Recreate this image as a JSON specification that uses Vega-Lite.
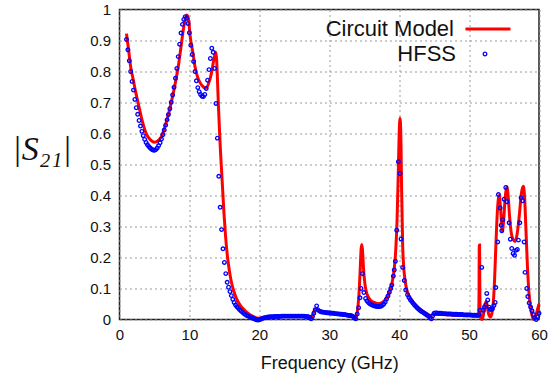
{
  "$schema": "https://vega.github.io/schema/vega-lite/v6.json",
  "width": 419.5,
  "height": 310,
  "autosize": {"type": "none"},
  "padding": {"left": 119.5, "top": 9.5, "right": 11, "bottom": 58.5},
  "background": "white",
  "config": {"view": {"stroke": "#222", "strokeWidth": 1.5}, "font": "Liberation Sans"},
  "datasets": {
    "model": [
      {"f":1.0,"v":0.922},{"f":1.3,"v":0.87},{"f":1.6,"v":0.815},{"f":2.0,"v":0.77},{"f":2.3,"v":0.735},{"f":2.65,"v":0.70},{"f":3.0,"v":0.665},{"f":3.3,"v":0.637},{"f":3.65,"v":0.61},{"f":4.0,"v":0.592},{"f":4.5,"v":0.578},{"f":5.0,"v":0.572},{"f":5.5,"v":0.577},{"f":6.0,"v":0.59},{"f":6.5,"v":0.622},{"f":7.0,"v":0.662},{"f":7.5,"v":0.71},{"f":8.0,"v":0.765},{"f":8.4,"v":0.815},{"f":8.8,"v":0.88},{"f":9.2,"v":0.945},{"f":9.6,"v":0.982},{"f":9.85,"v":0.972},{"f":10.1,"v":0.915},{"f":10.5,"v":0.86},{"f":10.8,"v":0.815},{"f":11.2,"v":0.78},{"f":11.5,"v":0.765},{"f":12.0,"v":0.75},{"f":12.35,"v":0.746},{"f":12.8,"v":0.765},{"f":13.2,"v":0.8},{"f":13.5,"v":0.84},{"f":13.76,"v":0.863},{"f":13.9,"v":0.835},{"f":14.0,"v":0.78},{"f":14.15,"v":0.69},{"f":14.3,"v":0.61},{"f":14.45,"v":0.54},{"f":14.6,"v":0.48},{"f":14.75,"v":0.42},{"f":14.95,"v":0.34},{"f":15.15,"v":0.275},{"f":15.35,"v":0.222},{"f":15.6,"v":0.175},{"f":15.8,"v":0.145},{"f":16.05,"v":0.116},{"f":16.4,"v":0.088},{"f":16.8,"v":0.064},{"f":17.3,"v":0.045},{"f":17.9,"v":0.03},{"f":18.5,"v":0.018},{"f":19.0,"v":0.011},{"f":19.5,"v":0.006},{"f":20.0,"v":0.004},{"f":21.0,"v":0.006},{"f":22.0,"v":0.009},{"f":23.0,"v":0.011},{"f":24.0,"v":0.012},{"f":25.0,"v":0.012},{"f":26.0,"v":0.012},{"f":27.0,"v":0.01},{"f":27.3,"v":0.005},{"f":27.5,"v":0.003},{"f":27.65,"v":0.012},{"f":27.8,"v":0.026},{"f":28.0,"v":0.033},{"f":28.2,"v":0.032},{"f":28.5,"v":0.028},{"f":29.0,"v":0.025},{"f":30.0,"v":0.022},{"f":31.0,"v":0.019},{"f":32.0,"v":0.016},{"f":33.0,"v":0.012},{"f":33.4,"v":0.008},{"f":33.7,"v":0.003},{"f":33.9,"v":0.012},{"f":34.1,"v":0.04},{"f":34.3,"v":0.1},{"f":34.45,"v":0.175},{"f":34.55,"v":0.225},{"f":34.65,"v":0.242},{"f":34.75,"v":0.225},{"f":34.9,"v":0.165},{"f":35.1,"v":0.115},{"f":35.3,"v":0.09},{"f":35.6,"v":0.072},{"f":35.9,"v":0.062},{"f":36.4,"v":0.055},{"f":37.0,"v":0.051},{"f":37.5,"v":0.054},{"f":38.0,"v":0.063},{"f":38.4,"v":0.077},{"f":38.7,"v":0.095},{"f":39.0,"v":0.12},{"f":39.3,"v":0.165},{"f":39.5,"v":0.22},{"f":39.7,"v":0.32},{"f":39.85,"v":0.45},{"f":40.0,"v":0.6},{"f":40.13,"v":0.649},{"f":40.25,"v":0.58},{"f":40.35,"v":0.42},{"f":40.5,"v":0.24},{"f":40.65,"v":0.17},{"f":40.85,"v":0.125},{"f":41.1,"v":0.095},{"f":41.5,"v":0.073},{"f":42.0,"v":0.056},{"f":42.5,"v":0.043},{"f":43.0,"v":0.033},{"f":43.5,"v":0.025},{"f":44.0,"v":0.018},{"f":44.5,"v":0.013},{"f":45.0,"v":0.016},{"f":46.0,"v":0.016},{"f":47.0,"v":0.015},{"f":48.0,"v":0.014},{"f":49.0,"v":0.013},{"f":50.0,"v":0.012},{"f":51.0,"v":0.011},{"f":51.35,"v":0.01},{"f":51.42,"v":0.08},{"f":51.46,"v":0.24},{"f":51.5,"v":0.24},{"f":51.54,"v":0.08},{"f":51.65,"v":0.005},{"f":51.85,"v":0.0},{"f":52.05,"v":0.015},{"f":52.25,"v":0.045},{"f":52.45,"v":0.058},{"f":52.65,"v":0.035},{"f":52.85,"v":0.013},{"f":53.05,"v":0.008},{"f":53.25,"v":0.018},{"f":53.45,"v":0.05},{"f":53.65,"v":0.13},{"f":53.85,"v":0.25},{"f":54.05,"v":0.35},{"f":54.3,"v":0.4},{"f":54.5,"v":0.36},{"f":54.75,"v":0.285},{"f":54.95,"v":0.32},{"f":55.15,"v":0.39},{"f":55.4,"v":0.428},{"f":55.6,"v":0.395},{"f":55.8,"v":0.33},{"f":56.0,"v":0.285},{"f":56.3,"v":0.258},{"f":56.6,"v":0.252},{"f":56.9,"v":0.28},{"f":57.2,"v":0.34},{"f":57.5,"v":0.41},{"f":57.77,"v":0.43},{"f":57.95,"v":0.39},{"f":58.15,"v":0.28},{"f":58.35,"v":0.17},{"f":58.55,"v":0.09},{"f":58.75,"v":0.045},{"f":58.95,"v":0.018},{"f":59.2,"v":0.0},{"f":59.45,"v":0.005},{"f":59.7,"v":0.025},{"f":60.0,"v":0.05}
    ],
    "hfss": [
      {"f":1.0,"v":0.903},{"f":1.2,"v":0.87},{"f":1.4,"v":0.835},{"f":1.6,"v":0.8},{"f":1.8,"v":0.768},{"f":2.0,"v":0.74},{"f":2.2,"v":0.71},{"f":2.4,"v":0.683},{"f":2.6,"v":0.662},{"f":2.8,"v":0.642},{"f":3.0,"v":0.624},{"f":3.2,"v":0.607},{"f":3.4,"v":0.593},{"f":3.6,"v":0.581},{"f":3.8,"v":0.571},{"f":4.0,"v":0.564},{"f":4.2,"v":0.558},{"f":4.4,"v":0.553},{"f":4.6,"v":0.549},{"f":4.8,"v":0.547},{"f":5.0,"v":0.546},{"f":5.2,"v":0.548},{"f":5.4,"v":0.553},{"f":5.6,"v":0.561},{"f":5.8,"v":0.57},{"f":6.0,"v":0.582},{"f":6.2,"v":0.596},{"f":6.4,"v":0.611},{"f":6.6,"v":0.627},{"f":6.8,"v":0.644},{"f":7.0,"v":0.661},{"f":7.2,"v":0.68},{"f":7.4,"v":0.701},{"f":7.6,"v":0.724},{"f":7.8,"v":0.749},{"f":8.0,"v":0.778},{"f":8.2,"v":0.81},{"f":8.4,"v":0.848},{"f":8.6,"v":0.888},{"f":8.8,"v":0.924},{"f":9.0,"v":0.952},{"f":9.2,"v":0.968},{"f":9.4,"v":0.977},{"f":9.6,"v":0.972},{"f":9.8,"v":0.955},{"f":10.0,"v":0.925},{"f":10.2,"v":0.885},{"f":10.4,"v":0.855},{"f":10.6,"v":0.832},{"f":10.8,"v":0.8},{"f":11.0,"v":0.77},{"f":11.2,"v":0.748},{"f":11.4,"v":0.735},{"f":11.6,"v":0.726},{"f":11.8,"v":0.72},{"f":12.0,"v":0.719},{"f":12.2,"v":0.726},{"f":12.4,"v":0.745},{"f":12.6,"v":0.772},{"f":12.8,"v":0.806},{"f":13.0,"v":0.842},{"f":13.2,"v":0.875},{"f":13.4,"v":0.862},{"f":13.6,"v":0.81},{"f":13.8,"v":0.697},{"f":14.0,"v":0.585},{"f":14.2,"v":0.462},{"f":14.4,"v":0.362},{"f":14.6,"v":0.29},{"f":14.8,"v":0.228},{"f":15.0,"v":0.184},{"f":15.2,"v":0.148},{"f":15.4,"v":0.12},{"f":15.6,"v":0.104},{"f":15.8,"v":0.09},{"f":16.0,"v":0.077},{"f":16.2,"v":0.065},{"f":16.4,"v":0.055},{"f":16.6,"v":0.047},{"f":16.8,"v":0.041},{"f":17.0,"v":0.036},{"f":17.2,"v":0.031},{"f":17.4,"v":0.027},{"f":17.6,"v":0.023},{"f":17.8,"v":0.019},{"f":18.0,"v":0.016},{"f":18.2,"v":0.013},{"f":18.4,"v":0.011},{"f":18.6,"v":0.009},{"f":18.8,"v":0.007},{"f":19.0,"v":0.005},{"f":19.2,"v":0.003},{"f":19.4,"v":0.001},{"f":19.6,"v":-0.001},{"f":19.8,"v":-0.002},{"f":20.0,"v":-0.001},{"f":20.2,"v":0.001},{"f":20.4,"v":0.003},{"f":20.6,"v":0.005},{"f":20.8,"v":0.006},{"f":21.0,"v":0.007},{"f":21.2,"v":0.008},{"f":21.4,"v":0.008},{"f":21.6,"v":0.009},{"f":21.8,"v":0.009},{"f":22.0,"v":0.009},{"f":22.2,"v":0.01},{"f":22.4,"v":0.01},{"f":22.6,"v":0.01},{"f":22.8,"v":0.01},{"f":23.0,"v":0.01},{"f":23.2,"v":0.011},{"f":23.4,"v":0.011},{"f":23.6,"v":0.011},{"f":23.8,"v":0.011},{"f":24.0,"v":0.011},{"f":24.2,"v":0.011},{"f":24.4,"v":0.011},{"f":24.6,"v":0.011},{"f":24.8,"v":0.011},{"f":25.0,"v":0.011},{"f":25.2,"v":0.011},{"f":25.4,"v":0.011},{"f":25.6,"v":0.011},{"f":25.8,"v":0.011},{"f":26.0,"v":0.011},{"f":26.2,"v":0.011},{"f":26.4,"v":0.011},{"f":26.6,"v":0.01},{"f":26.8,"v":0.01},{"f":27.0,"v":0.009},{"f":27.2,"v":0.007},{"f":27.4,"v":0.002},{"f":27.6,"v":0.01},{"f":27.8,"v":0.02},{"f":28.0,"v":0.032},{"f":28.2,"v":0.044},{"f":28.4,"v":0.031},{"f":28.6,"v":0.027},{"f":28.8,"v":0.025},{"f":29.0,"v":0.024},{"f":29.2,"v":0.023},{"f":29.4,"v":0.023},{"f":29.6,"v":0.022},{"f":29.8,"v":0.022},{"f":30.0,"v":0.021},{"f":30.2,"v":0.021},{"f":30.4,"v":0.02},{"f":30.6,"v":0.02},{"f":30.8,"v":0.019},{"f":31.0,"v":0.019},{"f":31.2,"v":0.018},{"f":31.4,"v":0.018},{"f":31.6,"v":0.017},{"f":31.8,"v":0.017},{"f":32.0,"v":0.016},{"f":32.2,"v":0.016},{"f":32.4,"v":0.015},{"f":32.6,"v":0.014},{"f":32.8,"v":0.013},{"f":33.0,"v":0.013},{"f":33.2,"v":0.012},{"f":33.4,"v":0.01},{"f":33.6,"v":0.005},{"f":33.8,"v":0.002},{"f":34.0,"v":0.018},{"f":34.2,"v":0.038},{"f":34.4,"v":0.07},{"f":34.55,"v":0.1},{"f":34.75,"v":0.148},{"f":34.95,"v":0.087},{"f":35.2,"v":0.068},{"f":35.4,"v":0.06},{"f":35.6,"v":0.055},{"f":35.8,"v":0.051},{"f":36.0,"v":0.048},{"f":36.2,"v":0.046},{"f":36.4,"v":0.044},{"f":36.6,"v":0.043},{"f":36.8,"v":0.042},{"f":37.0,"v":0.042},{"f":37.2,"v":0.042},{"f":37.4,"v":0.043},{"f":37.6,"v":0.046},{"f":37.8,"v":0.05},{"f":38.0,"v":0.056},{"f":38.2,"v":0.066},{"f":38.4,"v":0.076},{"f":38.6,"v":0.088},{"f":38.8,"v":0.1},{"f":38.95,"v":0.111},{"f":39.17,"v":0.14},{"f":39.3,"v":0.16},{"f":39.46,"v":0.188},{"f":39.65,"v":0.288},{"f":39.89,"v":0.509},{"f":40.13,"v":0.471},{"f":40.27,"v":0.26},{"f":40.5,"v":0.168},{"f":40.73,"v":0.126},{"f":40.94,"v":0.095},{"f":41.2,"v":0.08},{"f":41.4,"v":0.071},{"f":41.6,"v":0.064},{"f":41.8,"v":0.058},{"f":42.0,"v":0.052},{"f":42.2,"v":0.047},{"f":42.4,"v":0.042},{"f":42.6,"v":0.037},{"f":42.8,"v":0.033},{"f":43.0,"v":0.029},{"f":43.2,"v":0.026},{"f":43.4,"v":0.023},{"f":43.6,"v":0.02},{"f":43.8,"v":0.017},{"f":44.0,"v":0.014},{"f":44.2,"v":0.011},{"f":44.4,"v":0.006},{"f":44.6,"v":0.002},{"f":44.8,"v":0.012},{"f":45.0,"v":0.02},{"f":45.2,"v":0.021},{"f":45.4,"v":0.021},{"f":45.6,"v":0.02},{"f":45.8,"v":0.02},{"f":46.0,"v":0.02},{"f":46.2,"v":0.019},{"f":46.4,"v":0.019},{"f":46.6,"v":0.019},{"f":46.8,"v":0.018},{"f":47.0,"v":0.018},{"f":47.2,"v":0.018},{"f":47.4,"v":0.018},{"f":47.6,"v":0.017},{"f":47.8,"v":0.017},{"f":48.0,"v":0.017},{"f":48.2,"v":0.017},{"f":48.4,"v":0.016},{"f":48.6,"v":0.016},{"f":48.8,"v":0.016},{"f":49.0,"v":0.016},{"f":49.2,"v":0.015},{"f":49.4,"v":0.015},{"f":49.6,"v":0.015},{"f":49.8,"v":0.015},{"f":50.0,"v":0.015},{"f":50.2,"v":0.015},{"f":50.4,"v":0.014},{"f":50.6,"v":0.014},{"f":50.8,"v":0.014},{"f":51.0,"v":0.014},{"f":51.2,"v":0.014},{"f":51.4,"v":0.015},{"f":51.57,"v":0.03},{"f":51.81,"v":0.168},{"f":52.05,"v":0.03},{"f":52.2,"v":0.04},{"f":52.4,"v":0.048},{"f":52.53,"v":0.084},{"f":52.67,"v":0.063},{"f":52.85,"v":0.04},{"f":53.0,"v":0.033},{"f":53.2,"v":0.032},{"f":53.35,"v":0.035},{"f":53.55,"v":0.045},{"f":53.73,"v":0.055},{"f":53.82,"v":0.103},{"f":54.1,"v":0.25},{"f":54.2,"v":0.403},{"f":54.45,"v":0.36},{"f":54.58,"v":0.304},{"f":54.68,"v":0.286},{"f":54.8,"v":0.322},{"f":55.0,"v":0.388},{"f":55.25,"v":0.426},{"f":55.4,"v":0.38},{"f":55.72,"v":0.312},{"f":55.9,"v":0.259},{"f":56.1,"v":0.229},{"f":56.3,"v":0.213},{"f":56.5,"v":0.207},{"f":56.7,"v":0.223},{"f":56.9,"v":0.226},{"f":57.06,"v":0.256},{"f":57.25,"v":0.312},{"f":57.44,"v":0.393},{"f":57.67,"v":0.383},{"f":57.87,"v":0.25},{"f":58.0,"v":0.152},{"f":58.25,"v":0.1},{"f":58.4,"v":0.074},{"f":58.6,"v":0.053},{"f":58.8,"v":0.04},{"f":59.0,"v":0.028},{"f":59.2,"v":0.016},{"f":59.4,"v":0.006},{"f":59.6,"v":0.0},{"f":59.8,"v":0.008},{"f":60.0,"v":0.02}
    ]
  },
  "encoding": {
    "x": {
      "field": "f", "type": "quantitative",
      "scale": {"domain": [0, 60], "nice": false, "zero": false},
      "axis": {
        "title": "Frequency (GHz)", "values": [0, 10, 20, 30, 40, 50, 60],
        "grid": true, "gridDash": [2, 3], "gridColor": "#9a9a9a", "gridWidth": 1,
        "domain": false, "ticks": false, "labelFlush": false,
        "labelFont": "Liberation Sans", "labelFontSize": 15, "labelColor": "#111", "labelPadding": 8,
        "titleFont": "Liberation Sans", "titleFontSize": 18, "titleFontWeight": "normal", "titleColor": "#111", "titlePadding": 12
      }
    },
    "y": {
      "field": "v", "type": "quantitative",
      "scale": {"domain": [0, 1], "nice": false},
      "axis": {
        "title": "|S₂₁|", "values": [0, 0.1, 0.2, 0.3, 0.4, 0.5, 0.6, 0.7, 0.8, 0.9, 1],
        "format": ".1~f",
        "grid": true, "gridDash": [2, 3], "gridColor": "#9a9a9a", "gridWidth": 1,
        "domain": false, "ticks": false, "labelFlush": false,
        "labelFont": "Liberation Sans", "labelFontSize": 15, "labelColor": "#111", "labelPadding": 9,
        "titleFont": "Liberation Serif", "titleFontStyle": "italic", "titleFontSize": 34, "titleFontWeight": "normal", "titleColor": "#111",
        "titleAngle": 0, "titleAlign": "center", "titleBaseline": "middle", "titleX": -78, "titleY": 140
      }
    }
  },
  "layer": [
    {
      "data": {"name": "model"},
      "mark": {"type": "line", "strokeWidth": 3, "interpolate": "monotone"},
      "encoding": {
        "color": {
          "datum": "Circuit Model",
          "scale": {"range": ["#ff0000"]},
          "legend": {
            "title": null, "orient": "none", "legendX": 344.5, "legendY": -4.5, "padding": 0,
            "symbolSize": 2025, "symbolStrokeWidth": 3,
            "labelAlign": "right", "labelOffset": -58, "labelFontSize": 22,
            "labelFont": "Liberation Sans", "labelColor": "#111"
          }
        }
      }
    },
    {
      "data": {"name": "hfss"},
      "mark": {"type": "point", "filled": false, "size": 13, "strokeWidth": 1.3, "color": "#0000ff", "opacity": 1},
      "encoding": {
        "shape": {
          "datum": "HFSS",
          "scale": {"range": ["circle"]},
          "legend": {
            "title": null, "orient": "none", "legendX": 354.5, "legendY": 33.5, "padding": 0,
            "symbolSize": 13, "symbolStrokeWidth": 1.3,
            "labelAlign": "right", "labelOffset": -40, "labelFontSize": 22,
            "labelFont": "Liberation Sans", "labelColor": "#111"
          }
        }
      }
    }
  ]
}
